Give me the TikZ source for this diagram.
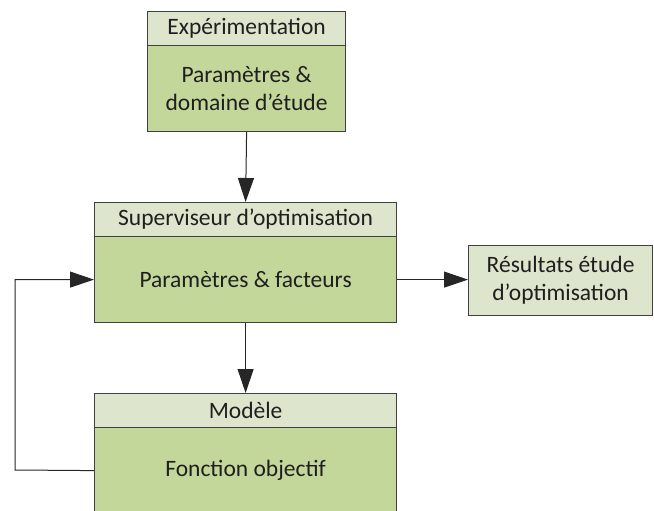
\documentclass[tikz,border=0pt]{standalone}
\usepackage{fontspec}
\setmainfont{Carlito}
\usetikzlibrary{arrows.meta}
\definecolor{hdr}{HTML}{DDE5CC}
\definecolor{bdy}{HTML}{C4D79B}
\definecolor{edge}{HTML}{404040}
\definecolor{wire}{HTML}{262626}
\begin{document}
\begin{tikzpicture}[x=1pt,y=-1pt,
  box/.style={draw=edge,line width=1.2pt,rectangle,inner sep=0pt,anchor=north west,
    font=\fontsize{23.5}{28}\selectfont,text=black!88,align=center},
  hbox/.style={box,fill=hdr},
  bbox/.style={box,fill=bdy},
  conn/.style={draw=wire,line width=1pt,-{Triangle[length=24pt,width=16pt]}}]
\clip (0,0) rectangle (654,511);
% top
\node[hbox,minimum width=198pt,minimum height=34pt] (eh) at (147,11) {Expérimentation};
\node[bbox,minimum width=198pt,minimum height=86pt] (eb) at (147,45) {Paramètres \&\\domaine d’étude};
% middle
\node[hbox,minimum width=302pt,minimum height=34pt] (sh) at (94,202) {Superviseur d’optimisation};
\node[bbox,minimum width=302pt,minimum height=86pt] (sb) at (94,236) {Paramètres \& facteurs};
% results
\node[hbox,minimum width=184pt,minimum height=70pt] (r) at (468,245) {Résultats étude\\d’optimisation};
% bottom
\node[hbox,minimum width=302pt,minimum height=34pt] (mh) at (94,393) {Modèle};
\node[bbox,minimum width=302pt,minimum height=86pt] (mb) at (94,427) {Fonction objectif};
% connectors
\draw[conn] (eb.south) -- (sh.north);
\draw[conn] (sb.east) -- (r.west |- sb.east);
\draw[conn] (sb.south) -- (mh.north);
\coordinate (lb) at (15,470);
\draw[conn] (mb.west) -- (lb) |- (sb.west);
\end{tikzpicture}
\end{document}
